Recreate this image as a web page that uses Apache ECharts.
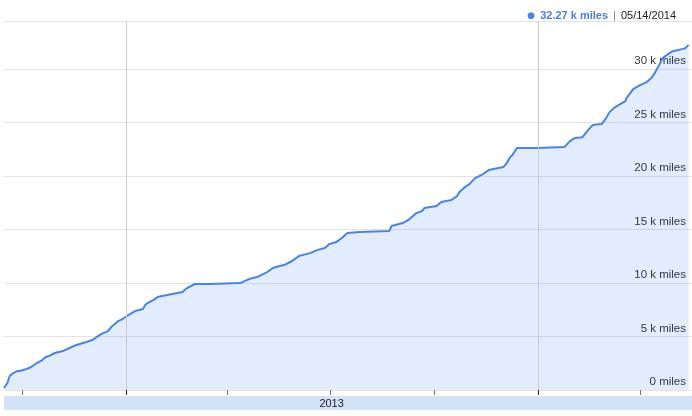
<!DOCTYPE html>
<html>
<head>
<meta charset="utf-8">
<script src="https://cdn.jsdelivr.net/npm/echarts@6/dist/echarts.min.js"></script>
<style>html,body{margin:0;padding:0;background:#fff}#c{width:692px;height:416px}</style>
</head>
<body>
<div id="c"></div>
<script>
// Cumulative distance (thousands of miles) by date
const dates = [
'2012-09-15','2012-09-18','2012-09-20','2012-09-22','2012-09-27','2012-09-29','2012-10-05','2012-10-09','2012-10-14','2012-10-16',
'2012-10-19','2012-10-22','2012-10-25','2012-10-30','2012-11-06','2012-11-12','2012-11-18','2012-11-27','2012-12-02','2012-12-06',
'2012-12-10','2012-12-16','2012-12-19','2012-12-24','2012-12-29','2013-01-03','2013-01-09','2013-01-16','2013-01-18','2013-01-20',
'2013-01-25','2013-01-29','2013-02-02','2013-02-11','2013-02-20','2013-02-24','2013-03-03','2013-03-16','2013-04-12','2013-04-20',
'2013-04-27','2013-05-06','2013-05-11','2013-05-17','2013-05-21','2013-05-28','2013-06-03','2013-06-13','2013-06-19','2013-06-26',
'2013-06-30','2013-07-06','2013-07-11','2013-07-16','2013-07-27','2013-08-22','2013-08-24','2013-09-03','2013-09-09','2013-09-15',
'2013-09-20','2013-09-22','2013-10-03','2013-10-07','2013-10-16','2013-10-21','2013-10-23','2013-10-28','2013-11-01','2013-11-06',
'2013-11-13','2013-11-18','2013-12-01','2013-12-04','2013-12-07','2013-12-09','2013-12-13','2013-12-31','2014-01-24','2014-01-29',
'2014-02-02','2014-02-09','2014-02-14','2014-02-18','2014-02-26','2014-03-02','2014-03-05','2014-03-10','2014-03-19','2014-03-20',
'2014-03-26','2014-04-01','2014-04-07','2014-04-11','2014-04-14','2014-04-17','2014-04-21','2014-04-27','2014-04-30','2014-05-08',
'2014-05-11','2014-05-14'
];
const kMiles = [
0.19,0.65,1.31,1.50,1.78,1.78,1.96,2.15,2.52,2.62,
2.80,3.08,3.18,3.46,3.64,3.93,4.21,4.49,4.67,4.95,
5.23,5.51,5.89,6.36,6.64,7.01,7.38,7.57,7.94,8.13,
8.41,8.69,8.79,8.97,9.16,9.53,9.91,9.91,10.00,10.37,
10.56,11.03,11.40,11.59,11.68,12.06,12.52,12.80,13.08,13.27,
13.64,13.83,14.21,14.67,14.77,14.86,15.33,15.61,15.98,16.54,
16.73,17.01,17.20,17.57,17.76,18.13,18.50,18.97,19.25,19.81,
20.19,20.56,20.84,21.21,21.78,21.96,22.62,22.62,22.71,23.27,
23.55,23.64,24.30,24.77,24.86,25.42,25.98,26.45,27.01,27.29,
28.13,28.50,28.79,29.16,29.63,30.19,31.03,31.50,31.68,31.87,
31.96,32.27
];
const axisStart = '2012-09-15';
const axisEnd = '2014-05-17';
const yearTicks = ['2013-01-01','2014-01-01'];
const quarterTicks = ['2012-10-01','2013-04-01','2013-07-01','2013-10-01','2014-04-01'];
const yearLabels = [{date:'2013-07-02', text:'2013'}];
const yTickStep = 5; // k miles
const yMax = 34.5;

function ts(s){const p=s.split('-').map(Number);return new Date(p[0],p[1]-1,p[2]).getTime();}
function fmtDate(s){const p=s.split('-');return p[1]+'/'+p[2]+'/'+p[0];}

const seriesData = dates.map((d,i)=>[ts(d), kMiles[i]*1000]);
const lastVal = kMiles[kMiles.length-1];
const lastDate = dates[dates.length-1];
const labelMap = {};
yearLabels.forEach(l=>{labelMap[ts(l.date)] = l.text;});

const blue = '#4a84dc';
const chart = echarts.init(document.getElementById('c'), null, {renderer:'canvas'});
chart.setOption({
  animation:false,
  backgroundColor:'#ffffff',
  title:{
    right:11, top:2,
    text:'{dot|●} {val|' + lastVal.toFixed(2) + ' k miles} {sep||} {date|' + fmtDate(lastDate) + '}',
    textStyle:{
      fontWeight:'normal',
      rich:{
        dot:{color:blue, fontSize:9, fontFamily:'DejaVu Sans', fontWeight:'normal'},
        val:{color:'#4a7fd8', fontSize:11, fontWeight:'bold', fontFamily:'Liberation Sans'},
        sep:{color:'#888', fontSize:11, fontWeight:'normal', fontFamily:'Liberation Sans'},
        date:{color:'#222', fontSize:11, fontWeight:'normal', fontFamily:'Liberation Sans'}
      }
    }
  },
  graphic:[{
    type:'rect', z:-1,
    shape:{x:4, y:396, width:688, height:14},
    style:{fill:'#d3e2f7'}
  }],
  grid:{left:4, right:0, top:21, bottom:26, containLabel:false},
  xAxis:[{
    type:'value', min:ts(axisStart), max:ts(axisEnd),
    axisLine:{show:false},
    splitLine:{show:false},
    axisTick:{show:true, length:5, customValues:yearTicks.map(ts), lineStyle:{color:'#222', width:1}},
    axisLabel:{show:true, customValues:Object.keys(labelMap).map(Number), formatter:(v)=>labelMap[v]||'', margin:8, fontSize:11, color:'#222', fontFamily:'Liberation Sans'}
  },{
    type:'value', min:ts(axisStart), max:ts(axisEnd), position:'bottom', gridIndex:0,
    axisLine:{show:false},
    splitLine:{show:false},
    axisTick:{show:true, length:5, customValues:quarterTicks.map(ts), lineStyle:{color:'#777', width:1}},
    axisLabel:{show:false}
  }],
  yAxis:{
    type:'value', position:'right', min:0, max:yMax*1000, interval:yTickStep*1000,
    axisLine:{show:false}, axisTick:{show:false},
    splitLine:{show:true, lineStyle:{color:'#e4e4e4', width:1}},
    axisLabel:{inside:true, showMaxLabel:false, verticalAlign:'bottom', margin:6, padding:[0,0,2,0],
      fontSize:11.5, color:'#333', fontFamily:'Liberation Sans',
      formatter:(v)=> v===0 ? '0 miles' : (v/1000)+' k miles'}
  },
  series:[{
    type:'line', xAxisIndex:0, data:seriesData, showSymbol:false, symbol:'none',
    lineStyle:{color:blue, width:2},
    areaStyle:{color:'rgba(20,100,230,0.12)', opacity:1},
    z:3,
    markLine:{
      silent:true, symbol:'none', label:{show:false},
      lineStyle:{color:'#cccccc', width:1, type:'solid'},
      data: yearTicks.map(d=>({xAxis:ts(d)}))
    }
  }]
});
</script>
</body>
</html>
